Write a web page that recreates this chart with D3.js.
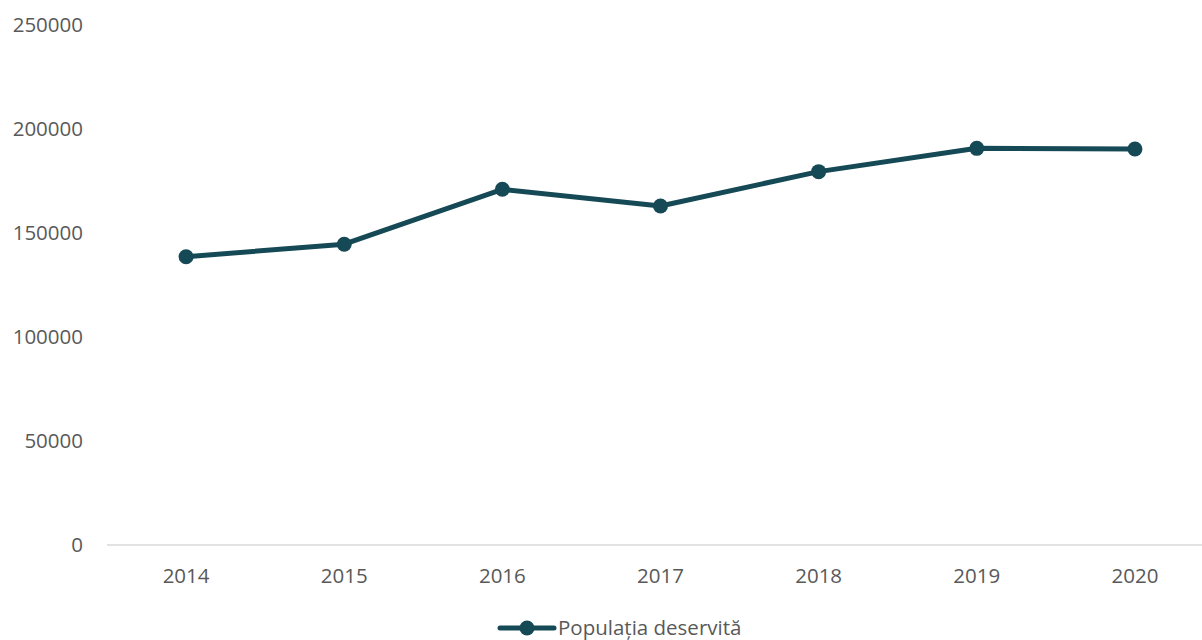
<!DOCTYPE html>
<html>
<head>
<meta charset="utf-8">
<script src="https://cdn.jsdelivr.net/npm/d3@7"></script>
<style>
html,body{margin:0;padding:0;background:#fff;overflow:hidden;}
svg{display:block;font-family:"Open Sans",sans-serif;}
</style>
</head>
<body>
<svg id="chart" width="1202" height="640"></svg>
<script>
const categories = ["2014","2015","2016","2017","2018","2019","2020"];
const values = [138600, 144600, 171000, 163000, 179500, 190700, 190400];
const yTicks = [0, 50000, 100000, 150000, 200000, 250000];
const seriesName = "Populația deservită";

const svg = d3.select("#chart");
const color = "#154955";
const textColor = "#595959";
const plotLeft = 107, plotRight = 1214, plotTop = 25, plotBottom = 545;

const x = d3.scalePoint().domain(categories).range([plotLeft, plotRight]).padding(0.5);
const y = d3.scaleLinear().domain([0, 250000]).range([plotBottom, plotTop]);

// y labels
svg.append("g").selectAll("text").data(yTicks).join("text")
  .attr("x", 83).attr("y", d => y(d)).attr("dy", "0.35em")
  .attr("text-anchor", "end").attr("fill", textColor)
  .style("font-size", "20.5px").text(d => d);

// x axis line
svg.append("line").attr("x1", plotLeft).attr("x2", plotRight)
  .attr("y1", y(0)).attr("y2", y(0))
  .attr("stroke", "#d9d9d9").attr("stroke-width", 1.5);

// x labels
svg.append("g").selectAll("text").data(categories).join("text")
  .attr("x", d => x(d)).attr("y", 583)
  .attr("text-anchor", "middle").attr("fill", textColor)
  .style("font-size", "20.5px").text(d => d);

// line
const line = d3.line().x((d, i) => x(categories[i])).y(d => y(d));
svg.append("path").datum(values).attr("d", line)
  .attr("fill", "none").attr("stroke", color).attr("stroke-width", 5)
  .attr("stroke-linejoin", "round").attr("stroke-linecap", "round");

svg.append("g").selectAll("circle").data(values).join("circle")
  .attr("cx", (d, i) => x(categories[i])).attr("cy", d => y(d))
  .attr("r", 7.5).attr("fill", color);

// legend
const lg = svg.append("g");
lg.append("line").attr("x1", 500).attr("x2", 554).attr("y1", 628).attr("y2", 628)
  .attr("stroke", color).attr("stroke-width", 5).attr("stroke-linecap", "round");
lg.append("circle").attr("cx", 527).attr("cy", 628).attr("r", 7.5).attr("fill", color);
lg.append("text").attr("x", 558).attr("y", 628).attr("dy", "0.35em")
  .attr("fill", textColor).style("font-size", "20.5px").text(seriesName);
</script>
</body>
</html>
